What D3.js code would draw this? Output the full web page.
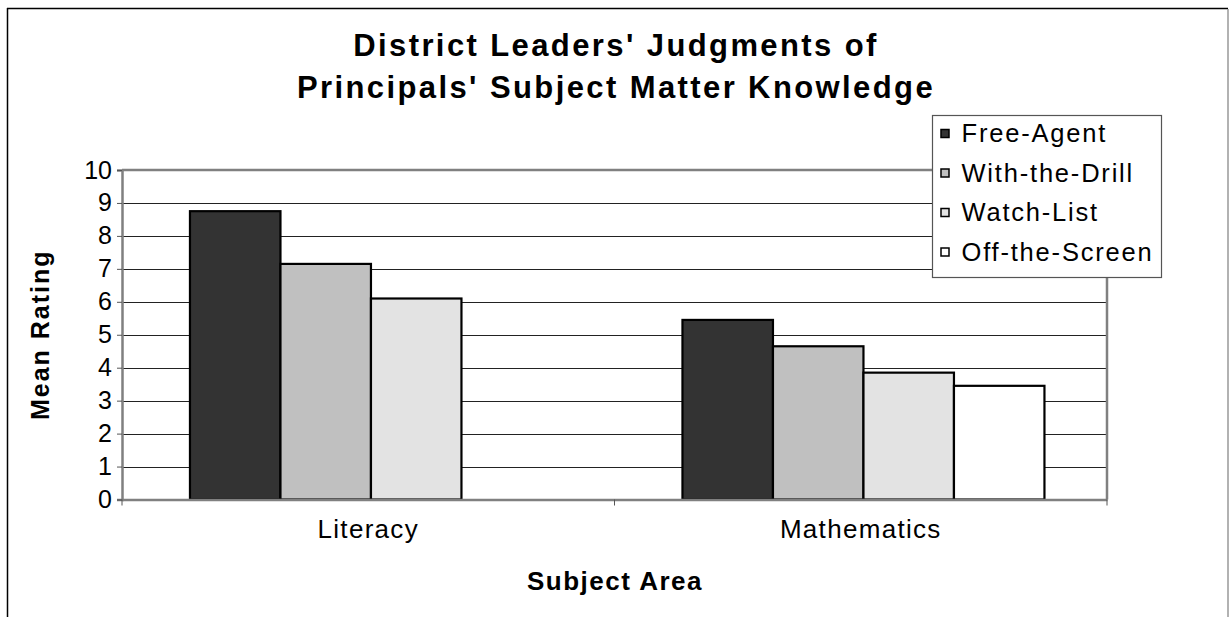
<!DOCTYPE html>
<html>
<head>
<meta charset="utf-8">
<script src="https://d3js.org/d3.v7.min.js"></script>
<style>
  body { margin: 0; background: #fff; }
  svg text { font-family: "Liberation Sans", Arial, sans-serif; fill: #000; }
</style>
</head>
<body>
<div id="chart"></div>
<script>
// data
var titleLines = ["District Leaders' Judgments of", "Principals' Subject Matter Knowledge"];
var categories = ["Literacy", "Mathematics"];
var seriesNames = ["Free-Agent", "With-the-Drill", "Watch-List", "Off-the-Screen"];
var freeAgent = [8.75, 5.45];
var withTheDrill = [7.15, 4.65];
var watchList = [6.1, 3.85];
var offTheScreen = [null, 3.45];
var yTicks = [0, 1, 2, 3, 4, 5, 6, 7, 8, 9, 10];
var fills = ["#333333", "#c0c0c0", "#e3e3e3", "#ffffff"];

var W = 1231, H = 617;
var plot = {left: 122, right: 1107, top: 170, bottom: 499.5};

var svg = d3.select("#chart").append("svg")
  .attr("width", W)
  .attr("height", H);

// outer frame (bottom runs off the picture)
svg.append("line").attr("x1", 7).attr("x2", 1228).attr("y1", 8.5).attr("y2", 8.5)
  .attr("stroke", "#000").attr("stroke-width", 1.5);
svg.append("line").attr("x1", 7.5).attr("x2", 7.5).attr("y1", 8).attr("y2", H)
  .attr("stroke", "#000").attr("stroke-width", 1.5);
svg.append("line").attr("x1", 1228).attr("x2", 1228).attr("y1", 9).attr("y2", H)
  .attr("stroke", "#999").attr("stroke-width", 1.5);

var x0 = d3.scaleBand().domain(categories).range([plot.left, plot.right]);
var x1 = d3.scaleBand().domain(seriesNames)
  .range([x0.bandwidth() * 0.138, x0.bandwidth() * 0.873]);
var y = d3.scaleLinear().domain([0, 10]).range([plot.bottom, plot.top]);

// gridlines
svg.append("g")
  .selectAll("line")
  .data(yTicks.filter(function(d) { return d > 0 && d < 10; }))
  .enter().append("line")
    .attr("x1", plot.left).attr("x2", plot.right)
    .attr("y1", function(d) { return Math.round(y(d)) + 0.5; })
    .attr("y2", function(d) { return Math.round(y(d)) + 0.5; })
    .attr("stroke", "#222").attr("stroke-width", 1.2);

// plot border (gray)
svg.append("line").attr("x1", plot.left).attr("x2", plot.right)
  .attr("y1", y(10)).attr("y2", y(10))
  .attr("stroke", "#808080").attr("stroke-width", 2.5);
svg.append("line").attr("x1", plot.right).attr("x2", plot.right)
  .attr("y1", y(10)).attr("y2", plot.bottom)
  .attr("stroke", "#808080").attr("stroke-width", 2.5);

// y axis
var yAxis = svg.append("g")
  .attr("transform", "translate(" + plot.left + ",0)")
  .call(d3.axisLeft(y).tickValues(yTicks).tickSize(5).tickPadding(5));
yAxis.select(".domain").attr("stroke", "#808080").attr("stroke-width", 2.5);
yAxis.selectAll(".tick line").attr("stroke", "#555");
yAxis.selectAll("text")
  .style("font-family", "'Liberation Sans', Arial, sans-serif")
  .style("font-size", "25px");

// bars
var rows = categories.map(function(c, i) {
  return {cat: c, vals: [freeAgent[i], withTheDrill[i], watchList[i], offTheScreen[i]]};
});
var groups = svg.selectAll(".grp")
  .data(rows)
  .enter().append("g")
    .attr("class", "grp")
    .attr("transform", function(d) { return "translate(" + x0(d.cat) + ",0)"; });
groups.selectAll("rect")
  .data(function(d) {
    return d.vals.map(function(v, j) { return {name: seriesNames[j], value: v, idx: j}; })
      .filter(function(e) { return e.value != null; });
  })
  .enter().append("rect")
    .attr("x", function(d) { return x1(d.name); })
    .attr("y", function(d) { return y(d.value); })
    .attr("width", x1.bandwidth())
    .attr("height", function(d) { return plot.bottom - y(d.value); })
    .attr("fill", function(d) { return fills[d.idx]; })
    .attr("stroke", "#000")
    .attr("stroke-width", 2.2);

// x axis
var xAxis = svg.append("g")
  .attr("transform", "translate(0," + plot.bottom + ")")
  .call(d3.axisBottom(x0).tickSize(0).tickPadding(20));
xAxis.select(".domain").attr("stroke", "#808080").attr("stroke-width", 2.5);
xAxis.selectAll("text")
  .style("font-family", "'Liberation Sans', Arial, sans-serif")
  .style("font-size", "26px")
  .style("letter-spacing", "1.3px");
var xEdges = [plot.left, plot.left + x0.bandwidth(), plot.right];
svg.append("g").selectAll("line")
  .data(xEdges).enter().append("line")
    .attr("x1", function(d) { return d; }).attr("x2", function(d) { return d; })
    .attr("y1", plot.bottom).attr("y2", plot.bottom + 6)
    .attr("stroke", "#555").attr("stroke-width", 1);

// titles
svg.append("text")
  .attr("text-anchor", "middle")
  .style("font-size", "31px").style("font-weight", "bold").style("letter-spacing", "2.4px")
  .selectAll("tspan")
  .data(titleLines)
  .enter().append("tspan")
    .attr("x", 616)
    .attr("y", function(d, i) { return 56 + i * 42; })
    .text(function(d) { return d; });

svg.append("text")
  .attr("transform", "translate(49," + ((plot.top + plot.bottom) / 2) + ") rotate(-90)")
  .attr("text-anchor", "middle")
  .style("font-size", "25px").style("font-weight", "bold").style("letter-spacing", "2px")
  .text("Mean Rating");

svg.append("text")
  .attr("x", 615).attr("y", 590)
  .attr("text-anchor", "middle")
  .style("font-size", "26px").style("font-weight", "bold").style("letter-spacing", "1.5px")
  .text("Subject Area");

// legend
var legend = svg.append("g").attr("transform", "translate(932.5,115.5)");
legend.append("rect")
  .attr("width", 229).attr("height", 162)
  .attr("fill", "#fff").attr("stroke", "#555").attr("stroke-width", 1.2);
var items = legend.selectAll(".item")
  .data(seriesNames)
  .enter().append("g")
    .attr("class", "item")
    .attr("transform", function(d, i) { return "translate(0," + (18 + i * 39.5) + ")"; });
items.append("rect")
  .attr("x", 8.5).attr("y", -4)
  .attr("width", 8).attr("height", 8)
  .attr("fill", function(d, i) { return fills[i]; })
  .attr("stroke", "#000").attr("stroke-width", 1.5);
items.append("text")
  .attr("x", 29).attr("dy", "0.35em")
  .style("font-size", "25.5px").style("letter-spacing", "1.8px")
  .text(function(d) { return d; });
</script>
</body>
</html>
